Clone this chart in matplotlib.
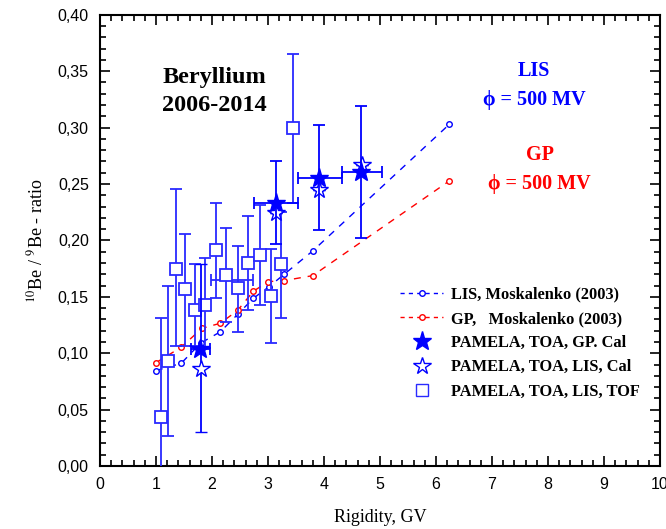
import matplotlib.pyplot as plt
from matplotlib.ticker import MultipleLocator, FuncFormatter
from matplotlib.lines import Line2D

plt.rcParams['font.family'] = ['Liberation Serif', 'DejaVu Serif']
plt.rcParams['mathtext.fontset'] = 'stix'

# model curves, Moskalenko (2003)
lis_x = [1.0, 1.45, 1.80, 2.15, 2.46, 2.74, 3.02, 3.29, 3.80, 6.24]
lis_y = [0.0846, 0.091, 0.109, 0.119, 0.1345, 0.1487, 0.159, 0.170, 0.1907, 0.303]
gp_x = [1.0, 1.45, 1.82, 2.15, 2.46, 2.74, 3.01, 3.29, 3.80, 6.24]
gp_y = [0.0916, 0.1053, 0.122, 0.1266, 0.138, 0.155, 0.1635, 0.1644, 0.1688, 0.2528]

# PAMELA, TOA, GP, Cal (filled stars)
gp_cal_x = [1.79, 3.14, 3.92, 4.67]
gp_cal_y = [0.104, 0.2335, 0.2557, 0.261]
gp_cal_xlo = [0.17, 0.38, 0.39, 0.34]
gp_cal_xhi = [0.17, 0.40, 0.41, 0.36]
gp_cal_ylo = [0.0, 0.0365, 0.0464, 0.0585]
gp_cal_yhi = [0.0, 0.037, 0.0467, 0.058]

# PAMELA, TOA, LIS, Cal (open stars)
lis_cal_x = [1.80, 3.15, 3.92, 4.68]
lis_cal_y = [0.0858, 0.224, 0.2448, 0.267]
lis_cal_ylo = [0.0558, 0.0, 0.0, 0.0]
lis_cal_yhi = [0.093, 0.0, 0.0, 0.0]

# PAMELA, TOA, LIS, TOF (open squares)
tof_x = [1.09, 1.21, 1.36, 1.52, 1.70, 1.88, 2.07, 2.26, 2.46, 2.65, 2.85, 3.05, 3.24, 3.44]
tof_y = [0.0435, 0.0934, 0.175, 0.157, 0.138, 0.143, 0.1916, 0.169, 0.1576, 0.180,
         0.187, 0.151, 0.179, 0.2995]
tof_lo = [-0.044, 0.0266, 0.106, 0.106, 0.106, 0.105, 0.149, 0.128, 0.119, 0.138,
          0.143, 0.109, 0.1315, 0.2335]
tof_hi = [0.131, 0.160, 0.246, 0.206, 0.179, 0.184, 0.2335, 0.211, 0.195, 0.2217,
          0.2315, 0.1925, 0.2255, 0.365]

fig = plt.figure(figsize=(6.66, 5.29), dpi=100)
ax = fig.add_axes([0.150, 0.119, 0.841, 0.853])

sq_col = '#2a2aff'
ax.errorbar(tof_x, tof_y,
            yerr=[[y - l for y, l in zip(tof_y, tof_lo)], [h - y for y, h in zip(tof_y, tof_hi)]],
            fmt='s', mfc='white', mec=sq_col, ms=9, mew=1.3, ecolor=sq_col,
            elinewidth=1.3, capsize=4, capthick=1.3, zorder=3)
# horizontal bar around 2.4 GV
ax.errorbar([2.36], [0.165], xerr=[[0.38], [0.38]], fmt='none', ecolor=sq_col,
            elinewidth=1.3, capsize=4, capthick=1.3, zorder=3)

ax.plot(lis_x, lis_y, ls=(0, (5, 5)), color='blue', lw=1.0, marker='o',
        mfc='white', mec='blue', ms=4, zorder=2)
ax.plot(gp_x, gp_y, ls=(0, (5, 5)), color='red', lw=1.0, marker='o',
        mfc='white', mec='red', ms=4, zorder=2)

ax.errorbar(lis_cal_x, lis_cal_y, yerr=[lis_cal_ylo, lis_cal_yhi], fmt='*',
            mfc='white', mec='blue', ms=13, mew=1.0, ecolor='blue',
            elinewidth=1.3, capsize=4, capthick=1.3, zorder=4)
ax.errorbar(gp_cal_x, gp_cal_y, xerr=[gp_cal_xlo, gp_cal_xhi],
            yerr=[gp_cal_ylo, gp_cal_yhi], fmt='*', mfc='blue', mec='blue',
            ms=14, ecolor='blue', elinewidth=1.3, capsize=4, capthick=1.3, zorder=5)

ax.set_xlim(0, 10)
ax.set_ylim(0, 0.40)
ax.xaxis.set_major_locator(MultipleLocator(1))
ax.xaxis.set_minor_locator(MultipleLocator(0.2))
ax.yaxis.set_major_locator(MultipleLocator(0.05))
ax.yaxis.set_minor_locator(MultipleLocator(0.01))
ax.yaxis.set_major_formatter(FuncFormatter(lambda v, p: f'{v:.2f}'.replace('.', ',')))
ax.tick_params(which='both', direction='in', top=True, right=True, width=1.2)
ax.tick_params(which='major', length=7, labelsize=11.5, pad=8)
ax.tick_params(which='minor', length=4)
for lab in ax.get_xticklabels() + ax.get_yticklabels():
    lab.set_fontfamily('Liberation Sans')
for s in ax.spines.values():
    s.set_linewidth(1.5)

ax.set_xlabel('Rigidity, GV', fontsize=13, labelpad=12)
ax.set_ylabel('$^{10}$Be / $^{9}$Be - ratio', fontsize=13, labelpad=8)

ax.text(2.05, 0.332, 'Beryllium\n2006-2014', fontsize=17.5, fontweight='bold',
        ha='center', va='center', linespacing=1.4)
ax.text(7.75, 0.337, 'LIS\n\u03d5 = 500 MV', color='blue', fontsize=14.5,
        fontweight='bold', ha='center', va='center', linespacing=1.6)
ax.text(7.85, 0.263, 'GP\n\u03d5 = 500 MV', color='red', fontsize=14.5,
        fontweight='bold', ha='center', va='center', linespacing=1.6)

handles = [
    Line2D([], [], color='blue', ls=(0, (3, 3)), lw=1.0, marker='o', mfc='white', mec='blue', ms=4),
    Line2D([], [], color='red', ls=(0, (3, 3)), lw=1.0, marker='o', mfc='white', mec='red', ms=4),
    Line2D([], [], ls='none', marker='*', color='blue', ms=14),
    Line2D([], [], ls='none', marker='*', mfc='white', mec='blue', ms=13),
    Line2D([], [], ls='none', marker='s', mfc='white', mec=sq_col, ms=9),
]
labels = ['LIS, Moskalenko (2003)', 'GP,   Moskalenko (2003)', 'PAMELA, TOA, GP. Cal',
          'PAMELA, TOA, LIS, Cal', 'PAMELA, TOA, LIS, TOF']
ax.legend(handles, labels, loc='upper left', bbox_to_anchor=(0.51, 0.43), frameon=False,
          prop={'family': 'Liberation Serif', 'weight': 'bold', 'size': 11.8},
          handlelength=2.6, labelspacing=0.5, handletextpad=0.5)

fig.savefig('out.png', dpi=100)
